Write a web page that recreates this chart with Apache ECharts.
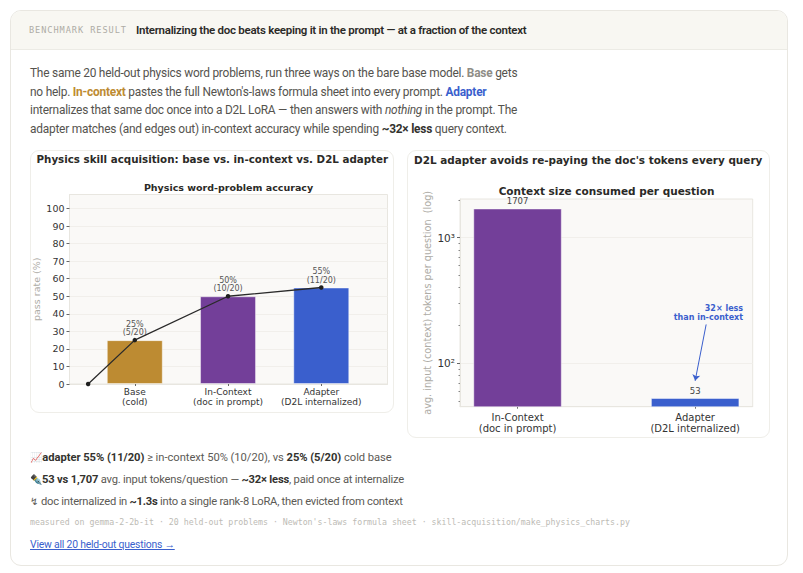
<!DOCTYPE html>
<html>
<head>
<meta charset="utf-8">
<title>Benchmark result</title>
<script src="https://cdn.jsdelivr.net/npm/echarts@6/dist/echarts.min.js"></script>
<style>
  html, body { margin: 0; padding: 0; background: #fff; width: 803px; height: 573px; overflow: hidden; }
  body { position: relative; font-family: Roboto, "Noto Sans", sans-serif; color: #55534e; }
  .abs { position: absolute; white-space: nowrap; }
  #frame { left: 10px; top: 10px; width: 776px; height: 554px; border: 1px solid #e9e7e1; border-radius: 11px; overflow: hidden; }
  #head { left: 0; top: 0; width: 100%; height: 38px; background: #f8f7f2; border-bottom: 1px solid #ecebe5; }
  #tag { left: 29px; top: 24px; font: 8.6px/13px "DejaVu Sans Mono", monospace; letter-spacing: 0.95px; color: #aeaca5; }
  #headline { left: 136px; top: 22px; font: 600 11.5px/17px Roboto, sans-serif; letter-spacing: -0.27px; color: #2b2a27; }
  #intro { left: 30px; top: 64px; font: 11.9px/18.7px Roboto, sans-serif; letter-spacing: -0.22px; color: #55534e; }
  #intro b { font-weight: 700; }
  .card { background: #fff; border: 1px solid #efeee9; border-radius: 9px; box-sizing: border-box; }
  #cardL { left: 30px; top: 150px; width: 364px; height: 263px; }
  #cardR { left: 407px; top: 150px; width: 363px; height: 288px; }
  .cardTitle { font: bold 10.45px/14px "DejaVu Sans", sans-serif; color: #2b2a27; }
  .fact { left: 30px; font: 11.2px/16px Roboto, sans-serif; color: #5c5a55; }
  .fact b { font-weight: 700; color: #33322e; }
  .fact .icon { font-size: 10px; letter-spacing: 0; margin-right: -2.5px; }
  #foot { left: 30px; top: 516px; font: 8.24px/12px "DejaVu Sans Mono", monospace; color: #bdbbb5; }
  #link { left: 30px; top: 537px; font: 10.4px/16px Roboto, sans-serif; letter-spacing: -0.2px; color: #3a5fcd; text-decoration: underline; }
  #chart { position: absolute; left: 0; top: 0; width: 803px; height: 573px; }
</style>
</head>
<body>
<div class="abs" id="frame"><div class="abs" id="head"></div></div>
<div class="abs" id="tag">BENCHMARK RESULT</div>
<div class="abs" id="headline">Internalizing the doc beats keeping it in the prompt — at a fraction of the context</div>
<div class="abs" id="intro">The same 20 held-out physics word problems, run three ways on the bare base model. <b style="color:#8f8d87">Base</b> gets<br>no help. <b style="color:#bd8b32">In-context</b> pastes the full Newton's-laws formula sheet into every prompt. <b style="color:#3a5fcd">Adapter</b><br>internalizes that same doc once into a D2L LoRA — then answers with <i>nothing</i> in the prompt. The<br>adapter matches (and edges out) in-context accuracy while spending <b style="color:#33322e">~32× less</b> query context.</div>
<div class="abs card" id="cardL"></div>
<div class="abs card" id="cardR"></div>
<div class="abs cardTitle" style="left:36.5px;top:152px;font-size:10.3px">Physics skill acquisition: base vs. in-context vs. D2L adapter</div>
<div class="abs cardTitle" style="left:414px;top:153px">D2L adapter avoids re-paying the doc's tokens every query</div>
<div id="chart"></div>
<div class="abs fact" style="top:450px;letter-spacing:-0.04px"><span class="icon">📈</span> <b>adapter 55% (11/20)</b> ≥ in-context 50% (10/20), vs <b>25% (5/20)</b> cold base</div>
<div class="abs fact" style="top:472px;letter-spacing:-0.2px"><span class="icon">✒&#xFE0F;</span> <b>53 vs 1,707</b> avg. input tokens/question — <b>~32× less</b>, paid once at internalize</div>
<div class="abs fact" style="top:494px;letter-spacing:-0.24px"><span class="icon" style="font-family:'DejaVu Sans',sans-serif;margin-right:0">↯</span> doc internalized in <b>~1.3s</b> into a single rank-8 LoRA, then evicted from context</div>
<div class="abs" id="foot">measured on gemma-2-2b-it · 20 held-out problems · Newton's-laws formula sheet · skill-acquisition/make_physics_charts.py</div>
<div class="abs" id="link">View all 20 held-out questions →</div>

<script>
// Accuracy panel
const accuracyLabels = ['Base\n(cold)', 'In-Context\n(doc in prompt)', 'Adapter\n(D2L internalized)'];
const accuracyPositions = [0, 1, 2];
const accuracyValues = [25, 50, 55];
const accuracyFractions = ['5/20', '10/20', '11/20'];
const accuracyColors = ['#bd8b32', '#733f99', '#3a5fcd'];
const trendLine = [[-0.5, 0], [0, 25], [1, 50], [2, 55]];
const accuracyTicks = [0, 10, 20, 30, 40, 50, 60, 70, 80, 90, 100];

// Context-size panel
const contextLabels = ['In-Context\n(doc in prompt)', 'Adapter\n(D2L internalized)'];
const contextPositions = [0, 1];
const contextValues = [1707, 53];
const contextColors = ['#733f99', '#3a5fcd'];
const contextTicks = [100, 1000];
const contextTickNames = { 100: '10²', 1000: '10³' };
const contextMinorTicks = [50, 60, 70, 80, 90, 200, 300, 400, 500, 600, 700, 800, 900, 2000];
const arrowFrom = [1.062, 204];
const arrowTo = [1, 72.7];
const noteAnchor = [1.27, 253];
const noteText = '32× less\nthan in-context';

const sans = '"DejaVu Sans", sans-serif';
const plotBg = '#faf9f7', spine = '#e8e6e0', gridLine = '#f1efeb', ink = '#333333', muted = '#aeaca6';

function xAxisFor(gridIndex, min, max, ticks, labels, size, margin) {
  return {
    type: 'value', gridIndex, min, max,
    axisLine: { show: true, lineStyle: { color: spine, width: 1 }, onZero: false },
    axisTick: { show: true, length: 2, customValues: ticks, lineStyle: { color: '#666' } },
    axisLabel: {
      customValues: ticks, margin, fontFamily: sans, fontSize: size, color: ink, lineHeight: size + 1,
      formatter: v => labels[ticks.indexOf(v)]
    },
    splitLine: { show: false }
  };
}

const chart = echarts.init(document.getElementById('chart'), null, { renderer: 'svg' });
chart.setOption({
  animation: false,
  backgroundColor: 'transparent',
  title: [
    { text: 'Physics word-problem accuracy', left: 228.5, top: 181, padding: 0, textAlign: 'center',
      textStyle: { fontFamily: sans, fontSize: 9.5, fontWeight: 'bold', color: '#2b2a27', lineHeight: 12 } },
    { text: 'Context size consumed per question', left: 606.5, top: 184, padding: 0, textAlign: 'center',
      textStyle: { fontFamily: sans, fontSize: 10.5, fontWeight: 'bold', color: '#2b2a27', lineHeight: 14 } }
  ],
  grid: [
    { left: 69.5, top: 194.5, width: 318, height: 189.5, show: true, backgroundColor: plotBg, borderColor: spine, borderWidth: 1 },
    { left: 460, top: 199, width: 292.7, height: 207.7, show: true, backgroundColor: plotBg, borderColor: spine, borderWidth: 1 }
  ],
  xAxis: [
    xAxisFor(0, -0.7, 2.71, accuracyPositions, accuracyLabels, 9, 3),
    xAxisFor(1, -0.324, 1.324, contextPositions, contextLabels, 10, 5)
  ],
  yAxis: [
    {
      type: 'value', gridIndex: 0, min: 0, max: 108,
      name: 'pass rate (%)', nameLocation: 'middle', nameGap: 28,
      nameTextStyle: { fontFamily: sans, fontSize: 9.5, color: muted },
      axisLine: { show: true, onZero: false, lineStyle: { color: spine } },
      axisTick: { show: true, length: 3, customValues: accuracyTicks, lineStyle: { color: '#666' } },
      axisLabel: { customValues: accuracyTicks, margin: 5, fontFamily: sans, fontSize: 9.5, color: ink },
      splitLine: { show: true, lineStyle: { color: gridLine, width: 1 } }
    },
    {
      type: 'log', logBase: 10, gridIndex: 1, min: 45.2, max: 2032,
      name: 'avg. input (context) tokens per question  (log)', nameLocation: 'middle', nameGap: 28,
      nameTextStyle: { fontFamily: sans, fontSize: 9.7, color: muted },
      axisLine: { show: true, onZero: false, lineStyle: { color: spine } },
      axisTick: { show: true, length: 3, customValues: contextTicks, lineStyle: { color: '#666' } },
      axisLabel: { customValues: contextTicks, margin: 5, fontFamily: sans, fontSize: 10.5, color: ink,
        formatter: v => contextTickNames[Math.round(v)] },
      splitLine: { show: true, lineStyle: { color: gridLine, width: 1 } }
    },
    {
      // Unlabelled minor ticks between the decades
      type: 'log', logBase: 10, gridIndex: 1, min: 45.2, max: 2032, position: 'left',
      axisLine: { show: false, onZero: false },
      axisTick: { show: true, length: 1.5, customValues: contextMinorTicks, lineStyle: { color: '#888' } },
      axisLabel: { show: false },
      splitLine: { show: false }
    }
  ],
  series: [
    {
      type: 'bar', xAxisIndex: 0, yAxisIndex: 0, barWidth: 56,
      data: accuracyValues.map((v, i) => ({
        value: [accuracyPositions[i], v],
        itemStyle: { color: accuracyColors[i], borderColor: 'rgba(255,255,255,0.45)', borderWidth: 1 },
        label: { formatter: v + '%\n(' + accuracyFractions[i] + ')' }
      })),
      label: { show: true, position: 'top', distance: 3, fontFamily: sans, fontSize: 8, lineHeight: 8.6, color: '#555' }
    },
    {
      type: 'line', xAxisIndex: 0, yAxisIndex: 0, data: trendLine, z: 5,
      symbol: 'circle', symbolSize: 4.5,
      lineStyle: { color: '#2a2a2a', width: 1.3 }, itemStyle: { color: '#1f1f1f' }
    },
    {
      type: 'bar', xAxisIndex: 1, yAxisIndex: 1, barWidth: 88.5,
      data: contextValues.map((v, i) => ({
        value: [contextPositions[i], v],
        itemStyle: { color: contextColors[i], borderColor: 'rgba(255,255,255,0.45)', borderWidth: 1 }
      })),
      label: { show: true, position: 'top', distance: 3, fontFamily: sans, fontSize: 8.5, color: '#444',
        formatter: p => String(p.value[1]) },
      markLine: {
        silent: true, symbol: ['none', 'arrow'], symbolSize: 6,
        lineStyle: { color: '#3a5fcd', width: 1, type: 'solid' }, label: { show: false },
        data: [[{ coord: arrowFrom }, { coord: arrowTo }]]
      },
      markPoint: {
        silent: true, symbol: 'circle', symbolSize: 0,
        label: { show: true, position: 'left', distance: 0, align: 'right', fontFamily: sans, fontSize: 8,
          fontWeight: 'bold', lineHeight: 9, color: '#3a5fcd', formatter: noteText },
        data: [{ coord: noteAnchor }]
      }
    }
  ]
});
</script>
</body>
</html>
